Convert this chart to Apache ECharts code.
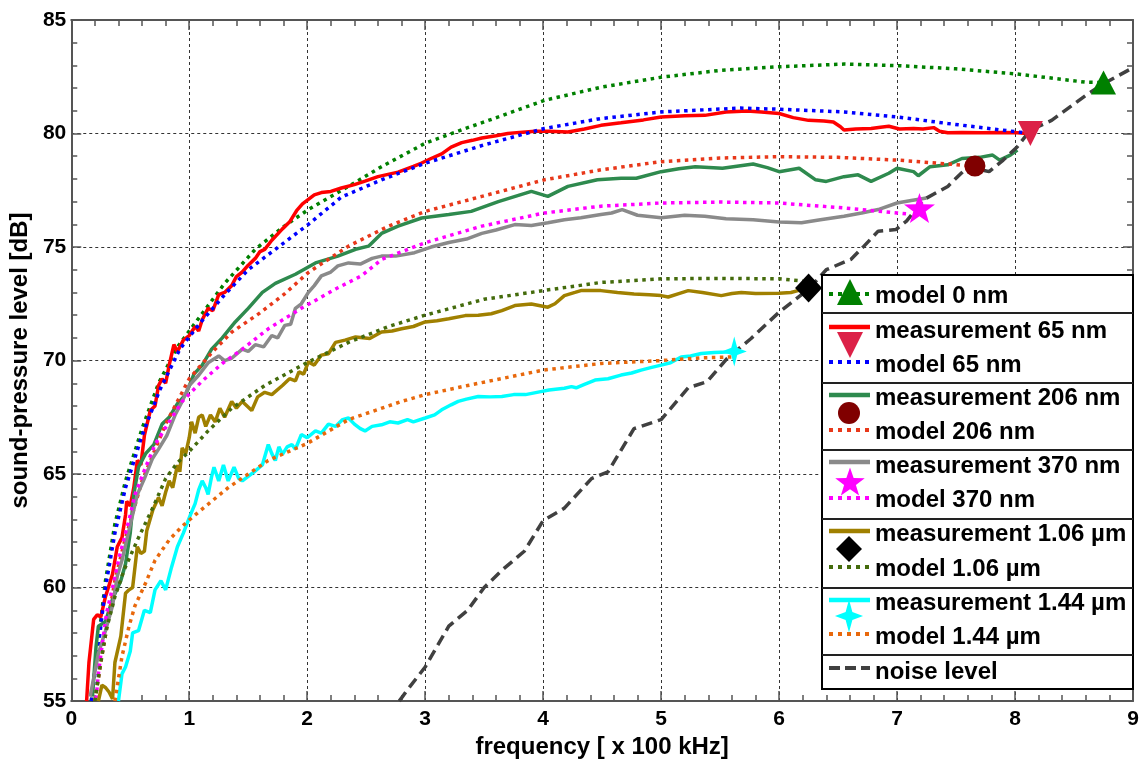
<!DOCTYPE html>
<html>
<head>
<meta charset="utf-8">
<script src="https://cdn.jsdelivr.net/npm/echarts@6/dist/echarts.min.js"></script>
<style>
  html, body { margin: 0; padding: 0; background: #ffffff; }
  #chart { width: 1142px; height: 764px; }
</style>
</head>
<body>
<div id="chart"></div>
<script>
// Axis ticks
const xTicks = [0, 1, 2, 3, 4, 5, 6, 7, 8, 9];
const yTicks = [55, 60, 65, 70, 75, 80, 85];

// Curves: [frequency (x 100 kHz), sound-pressure level (dB)]
const model0nm = [[0.17,55.0],[0.22,57.2],[0.29,60.3],[0.37,62.8],[0.46,64.7],[0.6,67.0],[0.74,69.0],[0.9,70.6],[1.1,72.0],[1.3,73.4],[1.56,74.9],[1.8,75.9],[2.01,76.65],[2.35,77.67],[2.63,78.54],[3.0,79.57],[3.34,80.22],[3.62,80.73],[4.01,81.46],[4.49,82.04],[5.0,82.48],[5.5,82.78],[6.0,82.94],[6.55,83.06],[7.0,82.99],[7.5,82.85],[8.02,82.62],[8.6,82.26],[8.72,82.25]];

const meas65nm = [[0.13,55.0],[0.15,56.7],[0.19,58.6],[0.22,58.8],[0.25,58.7],[0.29,59.6],[0.35,60.6],[0.39,61.8],[0.43,62.2],[0.46,63.2],[0.47,63.8],[0.5,63.6],[0.53,64.4],[0.56,65.6],[0.59,65.4],[0.62,66.7],[0.67,67.8],[0.71,68.0],[0.74,68.9],[0.77,69.2],[0.8,69.0],[0.83,69.8],[0.87,70.7],[0.9,70.4],[0.95,70.9],[1.0,71.1],[1.05,71.5],[1.08,71.3],[1.11,71.8],[1.16,72.3],[1.2,72.2],[1.25,72.9],[1.3,73.0],[1.36,73.3],[1.4,73.7],[1.45,73.9],[1.5,74.2],[1.56,74.5],[1.6,74.8],[1.64,74.9],[1.7,75.3],[1.79,75.8],[1.85,76.1],[1.91,76.6],[1.96,76.9],[2.01,77.1],[2.06,77.3],[2.12,77.4],[2.2,77.45],[2.29,77.6],[2.4,77.75],[2.49,77.9],[2.6,78.1],[2.77,78.3],[2.9,78.55],[2.97,78.7],[3.05,78.9],[3.14,79.1],[3.22,79.4],[3.31,79.6],[3.4,79.7],[3.48,79.8],[3.6,79.9],[3.7,80.0],[3.8,80.05],[3.93,80.1],[4.05,80.1],[4.21,80.07],[4.35,80.2],[4.49,80.36],[4.66,80.47],[4.85,80.6],[5.0,80.73],[5.2,80.78],[5.37,80.8],[5.55,80.95],[5.73,80.99],[5.85,80.95],[6.0,80.88],[6.12,80.7],[6.25,80.58],[6.38,80.55],[6.46,80.51],[6.52,80.3],[6.55,80.15],[6.65,80.2],[6.78,80.22],[6.86,80.28],[6.93,80.32],[7.02,80.2],[7.14,80.22],[7.22,80.2],[7.31,80.26],[7.36,80.1],[7.43,80.03],[7.55,80.05],[7.72,80.03],[7.9,80.05],[8.02,80.03],[8.1,80.0]];

const model65nm = [[0.17,55.0],[0.22,57.0],[0.29,60.0],[0.37,62.4],[0.46,64.4],[0.6,66.7],[0.75,68.7],[0.92,70.5],[1.1,71.7],[1.3,72.9],[1.5,74.0],[1.73,74.9],[2.01,76.0],[2.29,77.2],[2.63,77.96],[3.0,78.69],[3.5,79.5],[4.01,80.22],[4.49,80.66],[5.0,80.95],[5.67,81.12],[6.0,81.07],[6.55,80.95],[7.0,80.73],[7.43,80.44],[8.02,80.07],[8.12,80.0]];

const meas206nm = [[0.18,55.2],[0.21,57.4],[0.23,58.3],[0.29,58.5],[0.35,59.5],[0.42,60.3],[0.46,61.05],[0.5,62.4],[0.53,64.1],[0.57,65.3],[0.63,65.9],[0.7,66.3],[0.77,67.2],[0.83,67.5],[0.9,68.1],[0.97,68.5],[1.04,69.4],[1.11,69.8],[1.19,70.5],[1.28,71.0],[1.39,71.7],[1.5,72.3],[1.62,73.0],[1.73,73.4],[1.9,73.8],[2.07,74.3],[2.26,74.6],[2.41,74.9],[2.52,75.04],[2.63,75.6],[2.77,75.92],[2.97,76.28],[3.2,76.43],[3.39,76.57],[3.62,77.0],[3.9,77.45],[4.04,77.23],[4.21,77.67],[4.46,77.96],[4.66,78.03],[4.79,78.03],[5.0,78.32],[5.15,78.45],[5.29,78.54],[5.52,78.47],[5.78,78.66],[5.9,78.5],[6.0,78.32],[6.17,78.47],[6.31,77.96],[6.4,77.89],[6.55,78.1],[6.67,78.18],[6.78,77.89],[6.93,78.25],[7.0,78.47],[7.14,78.32],[7.18,78.14],[7.28,78.54],[7.43,78.62],[7.55,78.9],[7.7,78.95],[7.81,79.05],[7.87,78.83],[7.96,79.05],[8.02,79.27]];

const model206nm = [[0.2,55.0],[0.26,57.0],[0.37,60.3],[0.45,62.0],[0.6,64.7],[0.8,67.2],[1.0,69.2],[1.2,70.4],[1.36,71.25],[1.6,72.1],[1.8,72.9],[2.01,73.88],[2.35,75.04],[2.69,75.92],[3.0,76.57],[3.48,77.23],[4.01,77.96],[4.49,78.4],[5.0,78.76],[5.5,78.92],[6.0,78.98],[6.5,78.95],[7.0,78.83],[7.43,78.66],[7.62,78.57]];

const meas370nm = [[0.16,55.2],[0.19,56.0],[0.23,57.1],[0.29,58.1],[0.35,59.2],[0.39,60.5],[0.43,61.2],[0.47,62.1],[0.52,63.2],[0.56,64.1],[0.62,64.8],[0.69,65.7],[0.74,66.1],[0.81,66.7],[0.88,67.6],[0.94,68.2],[1.0,68.9],[1.08,69.35],[1.16,69.9],[1.25,70.2],[1.3,70.0],[1.36,70.1],[1.45,70.5],[1.5,70.4],[1.56,70.7],[1.63,70.6],[1.7,71.1],[1.75,71.0],[1.81,71.55],[1.86,71.6],[1.9,72.3],[1.95,72.5],[2.01,73.0],[2.06,73.3],[2.12,73.73],[2.2,73.9],[2.26,74.17],[2.35,74.3],[2.45,74.25],[2.55,74.5],[2.63,74.6],[2.75,74.6],[2.91,74.75],[3.05,75.0],[3.2,75.2],[3.35,75.35],[3.48,75.6],[3.6,75.75],[3.76,75.99],[3.9,75.95],[4.04,76.07],[4.18,76.2],[4.32,76.29],[4.49,76.43],[4.58,76.5],[4.67,76.65],[4.8,76.4],[5.0,76.29],[5.2,76.4],[5.37,76.36],[5.55,76.25],[5.78,76.2],[6.0,76.1],[6.19,76.07],[6.35,76.2],[6.55,76.36],[6.7,76.5],[6.84,76.65],[7.0,76.94],[7.12,77.05],[7.25,77.16]];

const model370nm = [[0.21,55.1],[0.23,56.2],[0.26,57.4],[0.3,58.9],[0.35,60.0],[0.4,61.2],[0.46,62.4],[0.5,63.2],[0.54,64.1],[0.63,65.3],[0.71,66.3],[0.83,67.3],[0.94,68.2],[1.11,69.1],[1.28,69.87],[1.45,70.5],[1.67,71.4],[1.95,72.3],[2.24,73.15],[2.46,73.73],[2.63,74.45],[3.0,75.19],[3.48,75.92],[4.01,76.5],[4.49,76.8],[5.0,76.94],[5.5,76.98],[6.0,76.94],[6.55,76.72],[7.0,76.5],[7.1,76.45]];

const meas106um = [[0.23,55.0],[0.26,55.7],[0.29,55.6],[0.32,55.4],[0.35,55.1],[0.37,56.7],[0.42,57.85],[0.46,59.75],[0.49,59.9],[0.52,60.0],[0.56,61.8],[0.59,61.5],[0.62,61.6],[0.64,62.5],[0.69,63.4],[0.74,63.97],[0.77,63.6],[0.8,64.2],[0.83,64.7],[0.86,64.4],[0.9,65.4],[0.92,65.1],[0.94,66.15],[0.97,65.9],[1.0,66.6],[1.02,67.3],[1.05,66.8],[1.08,67.5],[1.11,67.6],[1.14,67.1],[1.18,67.6],[1.22,67.3],[1.26,67.9],[1.3,67.5],[1.36,68.2],[1.4,67.9],[1.45,68.2],[1.53,67.8],[1.58,68.4],[1.64,68.6],[1.7,68.5],[1.79,68.9],[1.85,69.2],[1.9,69.1],[1.93,69.5],[1.97,69.4],[2.01,69.94],[2.06,69.8],[2.12,70.24],[2.18,70.3],[2.24,70.8],[2.32,70.9],[2.41,71.04],[2.53,70.97],[2.63,71.26],[2.72,71.3],[2.8,71.4],[2.9,71.5],[3.0,71.7],[3.1,71.75],[3.2,71.84],[3.34,71.98],[3.45,72.0],[3.56,72.06],[3.65,72.2],[3.76,72.42],[3.9,72.49],[4.04,72.35],[4.1,72.5],[4.18,72.86],[4.27,73.0],[4.32,73.08],[4.49,73.08],[4.63,73.0],[4.77,72.93],[4.9,72.9],[5.0,72.86],[5.06,72.8],[5.15,72.95],[5.23,73.08],[5.35,73.0],[5.51,72.86],[5.6,72.95],[5.68,73.0],[5.8,72.95],[6.0,72.96],[6.1,73.0],[6.16,73.08],[6.22,73.2]];

const model106um = [[0.2,55.0],[0.25,56.7],[0.3,58.2],[0.37,59.6],[0.45,60.8],[0.57,62.2],[0.69,63.5],[0.8,64.8],[0.9,65.5],[1.0,66.0],[1.16,66.9],[1.36,67.9],[1.64,68.9],[2.01,69.94],[2.35,70.8],[2.69,71.5],[3.0,72.0],[3.5,72.7],[4.0,73.08],[4.49,73.44],[5.0,73.6],[5.5,73.62],[6.0,73.6],[6.2,73.5]];

const meas144um = [[0.4,55.0],[0.43,56.2],[0.46,56.5],[0.5,57.2],[0.52,58.0],[0.57,58.1],[0.62,59.0],[0.67,58.9],[0.71,59.9],[0.76,60.3],[0.8,59.9],[0.85,60.9],[0.9,61.8],[0.95,62.4],[1.01,63.2],[1.05,63.7],[1.08,64.3],[1.11,64.7],[1.14,64.4],[1.16,64.1],[1.19,64.9],[1.21,65.3],[1.25,64.7],[1.29,65.4],[1.33,64.7],[1.38,65.3],[1.42,64.8],[1.45,64.7],[1.5,64.9],[1.55,65.1],[1.62,65.4],[1.67,66.3],[1.7,65.9],[1.73,65.6],[1.76,66.2],[1.79,65.87],[1.83,66.2],[1.87,66.3],[1.9,66.1],[1.95,66.74],[2.0,66.6],[2.07,66.9],[2.12,66.8],[2.18,67.2],[2.24,67.1],[2.3,67.4],[2.35,67.47],[2.4,67.2],[2.45,67.0],[2.49,66.9],[2.55,67.1],[2.63,67.17],[2.7,67.3],[2.77,67.25],[2.85,67.4],[2.9,67.3],[3.0,67.47],[3.08,67.61],[3.14,67.83],[3.22,68.05],[3.28,68.2],[3.35,68.3],[3.45,68.42],[3.55,68.4],[3.65,68.42],[3.75,68.5],[3.85,68.5],[3.98,68.63],[4.05,68.7],[4.18,68.78],[4.24,68.85],[4.28,68.8],[4.35,68.95],[4.44,69.14],[4.55,69.2],[4.66,69.36],[4.75,69.45],[4.83,69.58],[4.92,69.7],[5.0,69.8],[5.08,69.9],[5.17,70.16],[5.25,70.2],[5.34,70.31],[5.45,70.35],[5.56,70.38],[5.62,70.4]];

const model144um = [[0.37,55.0],[0.43,56.97],[0.49,58.3],[0.54,59.2],[0.63,60.2],[0.71,61.2],[0.83,62.1],[0.94,62.7],[1.05,63.2],[1.19,63.8],[1.33,64.4],[1.5,65.0],[1.67,65.6],[2.0,66.35],[2.35,67.4],[2.8,68.2],[3.0,68.5],[3.36,68.9],[4.0,69.58],[4.49,69.87],[5.0,70.0],[5.34,70.12],[5.62,70.16]];

const noiseLevel = [[2.78,55.0],[2.85,55.5],[3.0,56.5],[3.2,58.3],[3.36,59.0],[3.5,60.0],[3.65,60.76],[3.84,61.6],[4.0,62.95],[4.18,63.5],[4.41,64.8],[4.55,65.1],[4.77,67.0],[5.0,67.4],[5.23,68.8],[5.39,69.07],[5.56,70.1],[5.76,70.96],[6.0,72.13],[6.25,73.15],[6.4,74.0],[6.61,74.46],[6.72,75.04],[6.84,75.7],[6.99,75.77],[7.08,76.14],[7.23,77.1],[7.43,77.67],[7.6,78.54],[7.78,78.32],[7.9,78.83],[8.02,79.42],[8.13,80.15],[8.31,80.58],[8.6,81.68],[8.75,82.19],[9.0,82.9]];

// End-point markers of each thickness
const mark0nm = [[8.75, 82.25]];
const mark65nm = [[8.13, 80.0]];
const mark206nm = [[7.66, 78.57]];
const mark370nm = [[7.19, 76.72]];
const mark106um = [[6.25, 73.2]];
const mark144um = [[5.62, 70.4]];

const COL = {
  model0: '#008000', meas65: '#ff0000', model65: '#0000ff',
  meas206: '#2e8a4e', model206: '#e8381a', meas370: '#8a8a8a', model370: '#ff00ff',
  meas106: '#a08000', model106: '#446b0c', meas144: '#00ffff', model144: '#e8680c',
  noise: '#404040', tri65: '#dc2147', dot206: '#800000', star370: '#ff00ff',
  dia106: '#000000', star144: '#00ffff'
};

const FONT = '"Liberation Sans", Arial, sans-serif';
const DOT = [3.5, 4.5];

// Symbol outlines
function starPoints(n, rOut, rIn, cx, cy, sx, sy) {
  const pts = [];
  for (let i = 0; i < 2 * n; i++) {
    const r = i % 2 === 0 ? rOut : rIn;
    const a = -Math.PI / 2 + i * Math.PI / n;
    pts.push([cx + sx * r * Math.cos(a), cy + sy * r * Math.sin(a)]);
  }
  return pts;
}
function toPath(pts) {
  return 'path://M' + pts.map(p => p[0].toFixed(3) + ' ' + p[1].toFixed(3)).join(' L') + ' Z';
}
const STAR5 = starPoints(5, 1, 0.4, 0, 0, 1, 1);
const STAR4 = starPoints(4, 1, 0.34, 0, 0, 0.8, 1);

function lineSeries(name, data, color, kind) {
  const ls = { color: color, width: 3.5 };
  if (kind === 'model') { ls.type = DOT; ls.cap = 'butt'; }
  if (kind === 'noise') { ls.type = [11, 6]; ls.cap = 'butt'; }
  return { name: name, type: 'line', data: data, showSymbol: false, symbol: 'none',
           lineStyle: ls, z: 3, silent: true };
}
function markSeries(name, data, symbol, size, color, rotate) {
  return { name: name, type: 'scatter', data: data, symbol: symbol, symbolSize: size,
           symbolRotate: rotate || 0, itemStyle: { color: color, opacity: 1 }, z: 6, silent: true };
}

const series = [
  lineSeries('model 0 nm', model0nm, COL.model0, 'model'),
  lineSeries('measurement 65 nm', meas65nm, COL.meas65, 'meas'),
  lineSeries('model 65 nm', model65nm, COL.model65, 'model'),
  lineSeries('measurement 206 nm', meas206nm, COL.meas206, 'meas'),
  lineSeries('model 206 nm', model206nm, COL.model206, 'model'),
  lineSeries('measurement 370 nm', meas370nm, COL.meas370, 'meas'),
  lineSeries('model 370 nm', model370nm, COL.model370, 'model'),
  lineSeries('measurement 1.06 µm', meas106um, COL.meas106, 'meas'),
  lineSeries('model 1.06 µm', model106um, COL.model106, 'model'),
  lineSeries('measurement 1.44 µm', meas144um, COL.meas144, 'meas'),
  lineSeries('model 1.44 µm', model144um, COL.model144, 'model'),
  lineSeries('noise level', noiseLevel, COL.noise, 'noise'),
  markSeries('0 nm', mark0nm, 'triangle', [25, 24], COL.model0),
  markSeries('65 nm', mark65nm, 'triangle', [25, 25], COL.tri65, 180),
  markSeries('206 nm', mark206nm, 'circle', 21, COL.dot206),
  markSeries('370 nm', mark370nm, toPath(STAR5), [31, 30], COL.star370),
  markSeries('1.06 µm', mark106um, 'diamond', [27, 29], COL.dia106),
  markSeries('1.44 µm', mark144um, toPath(STAR4), [25, 30], COL.star144)
];

// Legend box
const LX0 = 822, LX1 = 1133, LY0 = 275, LY1 = 689;
const legendSeparators = [313, 383, 450, 519, 588, 655];
const SX0 = 829, SX1 = 870, MX = 850, TX = 875;

const g = [];
g.push({ type: 'rect', shape: { x: LX0, y: LY0, width: LX1 - LX0, height: LY1 - LY0 },
         style: { fill: '#ffffff', stroke: '#000000', lineWidth: 2 }, z: 100 });
legendSeparators.forEach(y => g.push({ type: 'line', shape: { x1: LX0, y1: y, x2: LX1, y2: y },
         style: { stroke: '#222222', lineWidth: 2 }, z: 101 }));

function legLine(y, color, kind) {
  const st = { stroke: color, lineWidth: 4.5 };
  if (kind === 'model') { st.lineDash = [4, 5]; st.lineWidth = 4; }
  if (kind === 'noise') { st.lineDash = [11, 5]; st.lineWidth = 4; }
  g.push({ type: 'line', shape: { x1: SX0, y1: y, x2: SX1, y2: y }, style: st, z: 102 });
}
function legText(y, text) {
  g.push({ type: 'text', x: TX, y: y, z: 103,
           style: { text: text, font: 'bold 24px ' + FONT, fill: '#000000',
                    verticalAlign: 'middle', textVerticalAlign: 'middle', align: 'left' } });
}
function legPoly(pts, color) {
  g.push({ type: 'polygon', shape: { points: pts }, style: { fill: color }, z: 104 });
}

// model 0 nm
legLine(294, COL.model0, 'model'); legText(296, 'model 0 nm');
legPoly([[MX, 279], [MX + 13, 305], [MX - 13, 305]], COL.model0);
// 65 nm
legLine(327, COL.meas65, 'meas'); legText(331, 'measurement 65 nm');
legLine(362, COL.model65, 'model'); legText(365, 'model 65 nm');
legPoly([[MX - 13, 332], [MX + 13, 332], [MX, 358]], COL.tri65);
// 206 nm
legLine(395, COL.meas206, 'meas'); legText(398, 'measurement 206 nm');
legLine(430, COL.model206, 'model'); legText(432, 'model 206 nm');
g.push({ type: 'circle', shape: { cx: MX - 1, cy: 413, r: 11 }, style: { fill: COL.dot206 }, z: 104 });
// 370 nm
legLine(462, COL.meas370, 'meas'); legText(466, 'measurement 370 nm');
legLine(498, COL.model370, 'model'); legText(500, 'model 370 nm');
legPoly(starPoints(5, 15.5, 6.2, MX, 483, 1, 1), COL.star370);
// 1.06 µm
legLine(531, COL.meas106, 'meas'); legText(534, 'measurement 1.06 µm');
legLine(567, COL.model106, 'model'); legText(569, 'model 1.06 µm');
legPoly([[MX - 1, 536], [MX + 12, 549], [MX - 1, 562], [MX - 14, 549]], COL.dia106);
// 1.44 µm
legLine(600, COL.meas144, 'meas'); legText(603, 'measurement 1.44 µm');
legLine(634, COL.model144, 'model'); legText(637, 'model 1.44 µm');
legPoly(starPoints(4, 16.5, 5.6, MX - 1, 616, 0.85, 1), COL.star144);
// noise
legLine(668, COL.noise, 'noise'); legText(672, 'noise level');

const axisCommon = {
  axisLine: { show: true, onZero: false, lineStyle: { color: '#555555', width: 2 } },
  axisTick: { show: true, inside: true, length: 10, lineStyle: { color: '#555555', width: 1.5 } },
  minorTick: { show: true, splitNumber: 5, length: 6, lineStyle: { color: '#555555', width: 1.5 } }
};
const labelStyle = { color: '#000000', fontWeight: 'bold', fontSize: 21, fontFamily: FONT };
const nameStyle = { color: '#000000', fontWeight: 'bold', fontSize: 24, fontFamily: FONT };
const gridLine = { show: true, lineStyle: { color: '#333333', type: [3, 3], width: 1 } };

const xMin = xTicks[0], xMax = xTicks[xTicks.length - 1], xStep = xTicks[1] - xTicks[0];
const yMin = yTicks[0], yMax = yTicks[yTicks.length - 1], yStep = yTicks[1] - yTicks[0];

const option = {
  animation: false,
  backgroundColor: '#ffffff',
  grid: { left: 69, top: 20, width: 1064, height: 683, containLabel: false },
  xAxis: [
    Object.assign({ type: 'value', position: 'bottom', min: xMin, max: xMax, interval: xStep,
      name: 'frequency [ x 100 kHz]', nameLocation: 'middle', nameGap: 31, nameTextStyle: nameStyle,
      axisLabel: Object.assign({ margin: 8 }, labelStyle), splitLine: gridLine }, axisCommon),
    Object.assign({ type: 'value', position: 'top', min: xMin, max: xMax, interval: xStep,
      axisLabel: { show: false }, splitLine: { show: false } }, axisCommon)
  ],
  yAxis: [
    Object.assign({ type: 'value', position: 'left', min: yMin, max: yMax, interval: yStep,
      name: 'sound-pressure level [dB]', nameLocation: 'middle', nameGap: 36, nameRotate: 90,
      nameTextStyle: nameStyle,
      axisLabel: Object.assign({ margin: 5 }, labelStyle), splitLine: gridLine }, axisCommon),
    Object.assign({ type: 'value', position: 'right', min: yMin, max: yMax, interval: yStep,
      axisLabel: { show: false }, splitLine: { show: false } }, axisCommon)
  ],
  series: series,
  graphic: g
};

const chart = echarts.init(document.getElementById('chart'), null, { renderer: 'canvas' });
chart.setOption(option);
</script>
</body>
</html>
